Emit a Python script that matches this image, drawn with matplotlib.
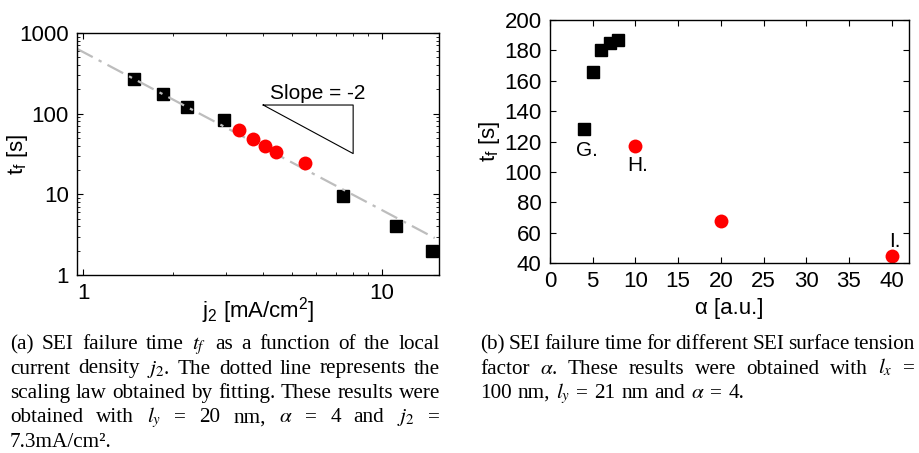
import numpy as np
import matplotlib.pyplot as plt
from matplotlib.ticker import FixedLocator, NullFormatter

plt.rcParams['font.family'] = 'Liberation Sans'
plt.rcParams['mathtext.fontset'] = 'custom'
plt.rcParams['mathtext.rm'] = 'Liberation Sans'
plt.rcParams['mathtext.it'] = 'Liberation Sans:italic'
plt.rcParams['mathtext.bf'] = 'Liberation Sans:bold'

# (a) failure time vs local current density
j2_sq = [1.48, 1.85, 2.22, 2.96, 7.41, 11.1, 14.7]
tf_sq = [270, 175, 121, 84, 9.6, 4.0, 2.0]
j2_red = [3.32, 3.70, 4.06, 4.43, 5.54]
tf_red = [63.5, 48.7, 40.2, 33.6, 24.3]
fit_A = 580.0
fit_n = -1.96
fit_j = [0.953, 15.0]
tri_j = [4, 8, 8, 4]
tri_t = [128, 128, 32, 128]

# (b) failure time vs surface tension factor
alpha_sq = [4, 5, 6, 7, 8]
tf_alpha_sq = [128, 166, 180, 185, 187]
alpha_red = [10, 20, 40]
tf_alpha_red = [117, 68, 45]
point_labels = ['G.', 'H.', 'I.']

cap_a = ['(a) SEI failure time $t_f$ as a function of the local',
         'current density $j_2$. The dotted line represents the',
         'scaling law obtained by fitting. These results were',
         'obtained with $l_y$ = 20 nm, $\\alpha$ = 4 and $j_2$ =',
         '7.3mA/cm\u00b2.']
cap_b = ['(b) SEI failure time for different SEI surface tension',
         'factor $\\alpha$. These results were obtained with $l_x$ =',
         '100 nm, $l_y$ = 21 nm and $\\alpha$ = 4.']

W, H = 919, 453
fig = plt.figure(figsize=(W / 100, H / 100), dpi=100)
fs = 16

# ---- left panel
ax1 = fig.add_axes([77 / W, 1 - 275 / H, 362 / W, 242 / H])
ax1.set_xscale('log')
ax1.set_yscale('log')
jj = np.geomspace(fit_j[0], fit_j[1], 60)
ax1.plot(jj, fit_A * jj ** fit_n, color='#bdbdbd', lw=1.6,
         ls=(0, (8, 3, 1.5, 3)), zorder=2.5)
ax1.plot(j2_sq, tf_sq, 's', color='black', ms=9, zorder=2)
ax1.plot(j2_red, tf_red, 'o', color='red', mec='none', ms=10, zorder=3)
ax1.plot(tri_j, tri_t, color='black', lw=0.8)
ax1.text(4.2, 180, 'Slope = -2', fontsize=15, va='center')
ax1.set_xlim(0.953, 15.5)
ax1.set_ylim(1, 1000)
ax1.xaxis.set_major_locator(FixedLocator([1, 10]))
ax1.set_xticklabels(['1', '10'])
ax1.xaxis.set_minor_formatter(NullFormatter())
ax1.yaxis.set_major_locator(FixedLocator([1, 10, 100, 1000]))
ax1.set_yticklabels(['1', '10', '100', '1000'])
ax1.yaxis.set_minor_formatter(NullFormatter())
ax1.set_xlabel('j$_2$ [mA/cm$^2$]', fontsize=fs)
ax1.set_ylabel('t$_\\mathrm{f}$ [s]', fontsize=fs)
ax1.xaxis.set_label_coords(0.5, -0.083)
ax1.yaxis.set_label_coords(-0.13, 0.5)

# ---- right panel
ax2 = fig.add_axes([550 / W, 1 - 263.3 / H, 358.7 / W, 243.3 / H])
ax2.plot(alpha_sq, tf_alpha_sq, 's', color='black', ms=9)
ax2.plot(alpha_red, tf_alpha_red, 'o', color='red', mec='none', ms=10)
for lab, (x, y) in zip(point_labels, [(3.05, 114.5), (9.05, 104.2), (39.7, 54.5)]):
    ax2.text(x, y, lab, fontsize=15, va='center', ha='left')
ax2.set_xlim(0, 42)
ax2.set_ylim(40, 200)
ax2.set_xticks(range(0, 41, 5))
ax2.set_yticks(range(40, 201, 20))
ax2.set_xlabel('\u03b1 [a.u.]', fontsize=fs)
ax2.set_ylabel('t$_\\mathrm{f}$ [s]', fontsize=fs)
ax2.xaxis.set_label_coords(0.5, -0.143)
ax2.yaxis.set_label_coords(-0.134, 0.5)

for ax in (ax1, ax2):
    ax.tick_params(which='both', direction='in', top=True, right=True,
                   labelsize=fs)
    ax.tick_params(which='major', length=4.5, width=0.8)
    ax.tick_params(which='minor', length=2.5, width=0.6)
    ax.tick_params(axis='x', pad=5.5)
    ax.tick_params(axis='y', pad=6)
    for s in ax.spines.values():
        s.set_linewidth(1.0)

# ---- captions, justified word by word
r = fig.canvas.get_renderer()
cap_font = dict(family='Liberation Serif', math_fontfamily='stix')

# size the caption font so the 3rd line of (a) fills the column naturally
probe = fig.text(0, 0, cap_a[2], fontsize=10, **cap_font)
cap_size = 10 * 426 / probe.get_window_extent(r).width
probe.remove()


def caption(lines, x0, x1, y0, dy):
    for i, line in enumerate(lines):
        words = line.split(' ')
        y = 1 - (y0 + i * dy) / H
        texts = [fig.text(0, y, w, fontsize=cap_size, va='baseline', **cap_font)
                 for w in words]
        widths = [t.get_window_extent(r).width for t in texts]
        if i == len(lines) - 1:
            gap = cap_size * 100 / 72 * 0.28
        else:
            gap = (x1 - x0 - sum(widths)) / (len(words) - 1)
        x = x0
        for t, w in zip(texts, widths):
            t.set_x(x / W)
            x += w + gap


caption(cap_a, 10, 440, 349, 24.5)
caption(cap_b, 480, 915, 349, 24.5)

fig.savefig('out.png', dpi=100)
